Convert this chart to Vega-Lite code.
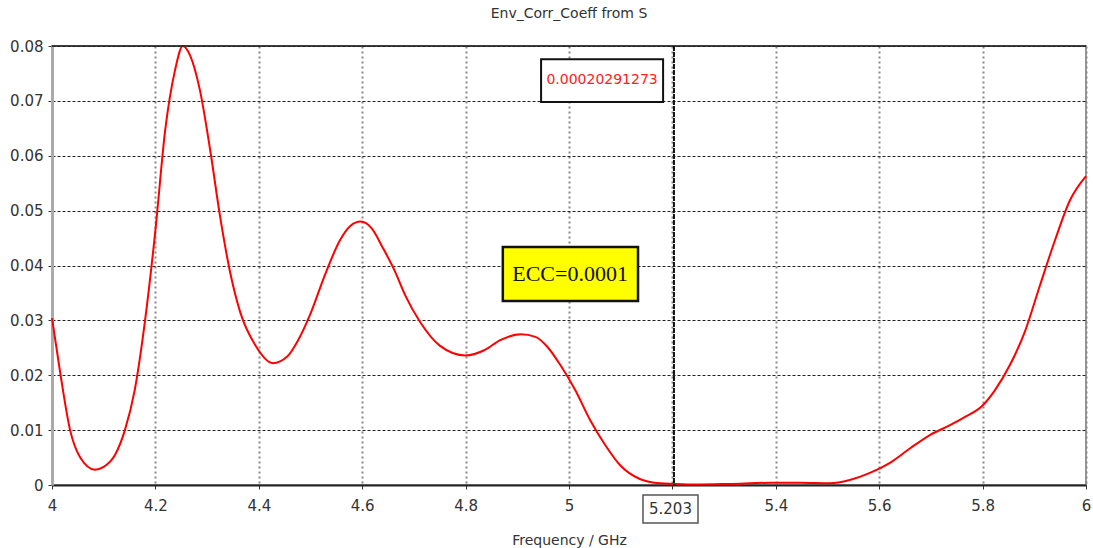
{
  "$schema": "https://vega.github.io/schema/vega-lite/v6.json",
  "width": 1034,
  "height": 439,
  "autosize": {"type": "none"},
  "padding": {"left": 52, "top": 46, "right": 7, "bottom": 63},
  "background": "white",
  "title": {"text": "Env_Corr_Coeff from S", "font": "DejaVu Sans", "fontSize": 14, "fontWeight": "normal", "color": "#333", "anchor": "middle", "offset": 18},
  "config": {
    "view": {"stroke": "#999", "strokeWidth": 2},
    "axis": {"labelFont": "DejaVu Sans", "labelFontSize": 15, "labelColor": "#333", "titleFont": "DejaVu Sans", "titleFontSize": 14, "titleFontWeight": "normal", "titleColor": "#333", "tickColor": "#333", "tickSize": 4}
  },
  "data": {"values": [
    {"f": 4.0, "ecc": 0.0304}, {"f": 4.015, "ecc": 0.021}, {"f": 4.035, "ecc": 0.010}, {"f": 4.054, "ecc": 0.0051},
    {"f": 4.083, "ecc": 0.0028}, {"f": 4.10, "ecc": 0.0033}, {"f": 4.122, "ecc": 0.0055}, {"f": 4.141, "ecc": 0.010},
    {"f": 4.16, "ecc": 0.0173}, {"f": 4.18, "ecc": 0.030}, {"f": 4.2, "ecc": 0.0464}, {"f": 4.219, "ecc": 0.0647},
    {"f": 4.238, "ecc": 0.0756}, {"f": 4.253, "ecc": 0.0800}, {"f": 4.267, "ecc": 0.0783}, {"f": 4.286, "ecc": 0.072},
    {"f": 4.306, "ecc": 0.061}, {"f": 4.325, "ecc": 0.049}, {"f": 4.344, "ecc": 0.039}, {"f": 4.364, "ecc": 0.0315},
    {"f": 4.393, "ecc": 0.0255}, {"f": 4.427, "ecc": 0.0222}, {"f": 4.455, "ecc": 0.0234}, {"f": 4.475, "ecc": 0.0262},
    {"f": 4.499, "ecc": 0.031}, {"f": 4.528, "ecc": 0.0383}, {"f": 4.557, "ecc": 0.0446}, {"f": 4.577, "ecc": 0.0472},
    {"f": 4.597, "ecc": 0.0480}, {"f": 4.618, "ecc": 0.0468}, {"f": 4.64, "ecc": 0.0432}, {"f": 4.662, "ecc": 0.0392},
    {"f": 4.683, "ecc": 0.0346}, {"f": 4.712, "ecc": 0.0297}, {"f": 4.75, "ecc": 0.0254}, {"f": 4.8, "ecc": 0.0236},
    {"f": 4.837, "ecc": 0.0246}, {"f": 4.867, "ecc": 0.0264}, {"f": 4.907, "ecc": 0.02745}, {"f": 4.935, "ecc": 0.0270},
    {"f": 4.958, "ecc": 0.0252}, {"f": 4.983, "ecc": 0.0219}, {"f": 5.012, "ecc": 0.0173}, {"f": 5.041, "ecc": 0.0118},
    {"f": 5.07, "ecc": 0.0073}, {"f": 5.099, "ecc": 0.0036}, {"f": 5.137, "ecc": 0.0011}, {"f": 5.176, "ecc": 0.0003},
    {"f": 5.203, "ecc": 0.0002}, {"f": 5.25, "ecc": 0.0001}, {"f": 5.31, "ecc": 0.0002}, {"f": 5.389, "ecc": 0.0004},
    {"f": 5.447, "ecc": 0.0004}, {"f": 5.505, "ecc": 0.0003}, {"f": 5.543, "ecc": 0.0009}, {"f": 5.582, "ecc": 0.0022},
    {"f": 5.62, "ecc": 0.004}, {"f": 5.66, "ecc": 0.0067}, {"f": 5.698, "ecc": 0.0091}, {"f": 5.737, "ecc": 0.0109},
    {"f": 5.766, "ecc": 0.0124}, {"f": 5.799, "ecc": 0.0144}, {"f": 5.824, "ecc": 0.0173}, {"f": 5.853, "ecc": 0.0219},
    {"f": 5.882, "ecc": 0.028}, {"f": 5.911, "ecc": 0.0364}, {"f": 5.94, "ecc": 0.0446}, {"f": 5.969, "ecc": 0.0519},
    {"f": 6.0, "ecc": 0.0563}
  ]},
  "layer": [
    {
      "mark": {"type": "line", "color": "#ff0000", "strokeWidth": 2, "interpolate": "monotone", "clip": false},
      "encoding": {
        "x": {"field": "f", "type": "quantitative", "scale": {"domain": [4, 6], "nice": false, "zero": false},
          "axis": {"title": "Frequency / GHz", "values": [4, 4.2, 4.4, 4.6, 4.8, 5, 5.2, 5.4, 5.6, 5.8, 6],
            "labelExpr": "datum.value == 5.2 ? '' : format(datum.value, '')", "labelPadding": 9, "titlePadding": 20,
            "labelFlush": false, "domainColor": "#222", "domainWidth": 2,
            "grid": true, "gridColor": "#888", "gridDash": [2, 3], "gridWidth": 2}},
        "y": {"field": "ecc", "type": "quantitative", "scale": {"domain": [0, 0.08], "nice": false},
          "axis": {"title": null, "values": [0, 0.01, 0.02, 0.03, 0.04, 0.05, 0.06, 0.07, 0.08],
            "labelExpr": "datum.value == 0 ? '0' : format(datum.value, '.2f')", "labelPadding": 5, "labelFlush": false,
            "domainColor": "#aaa", "domainWidth": 3,
            "grid": true, "gridColor": "#222", "gridDash": [3, 2], "gridWidth": 1}}
      }
    },
    {
      "data": {"values": [{}]},
      "mark": {"type": "rule", "color": "#222", "strokeWidth": 1.5},
      "encoding": {"y": {"datum": 0.08}}
    },
    {
      "data": {"values": [{}]},
      "mark": {"type": "rule", "color": "#111", "strokeWidth": 2, "strokeDash": [5, 1]},
      "encoding": {"x": {"datum": 5.203}}
    },
    {
      "data": {"values": [{}]},
      "mark": {"type": "rect", "fill": "white", "stroke": "#111", "strokeWidth": 2, "clip": false},
      "encoding": {"x": {"datum": 4.946}, "x2": {"datum": 5.182}, "y": {"datum": 0.0776}, "y2": {"datum": 0.0698}}
    },
    {
      "data": {"values": [{}]},
      "mark": {"type": "text", "text": "0.00020291273", "color": "#ff2020", "font": "DejaVu Sans", "fontSize": 14, "align": "center", "baseline": "middle"},
      "encoding": {"x": {"datum": 5.064}, "y": {"datum": 0.0738}}
    },
    {
      "data": {"values": [{}]},
      "mark": {"type": "rect", "fill": "#ffff00", "stroke": "#111", "strokeWidth": 2.5},
      "encoding": {"x": {"datum": 4.872}, "x2": {"datum": 5.1335}, "y": {"datum": 0.04335}, "y2": {"datum": 0.03352}}
    },
    {
      "data": {"values": [{}]},
      "mark": {"type": "text", "text": "ECC=0.0001", "color": "#111", "font": "Liberation Serif", "fontSize": 22, "align": "center", "baseline": "middle"},
      "encoding": {"x": {"datum": 5.002}, "y": {"datum": 0.0384}}
    },
    {
      "data": {"values": [{}]},
      "mark": {"type": "rect", "fill": "white", "stroke": "#555", "strokeWidth": 1.5, "clip": false},
      "encoding": {"x": {"datum": 5.1431}, "x2": {"datum": 5.2495}, "y": {"datum": -0.00182}, "y2": {"datum": -0.00692}}
    },
    {
      "data": {"values": [{}]},
      "mark": {"type": "text", "text": "5.203", "color": "#333", "font": "DejaVu Sans", "fontSize": 15, "align": "center", "baseline": "middle", "clip": false},
      "encoding": {"x": {"datum": 5.1963}, "y": {"datum": -0.0044}}
    }
  ]
}
